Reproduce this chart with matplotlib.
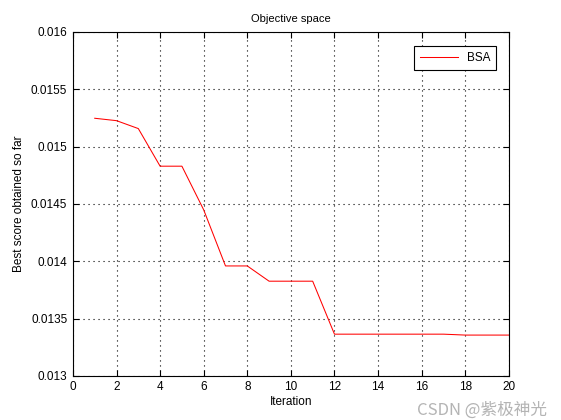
import matplotlib
matplotlib.use('Agg')
import matplotlib.pyplot as plt

# Convergence curve
iterations = list(range(1, 21))
best_score = [0.015247, 0.015226, 0.015157, 0.014829, 0.014829,
              0.014448, 0.013959, 0.013959, 0.013826, 0.013826,
              0.013826, 0.013364, 0.013364, 0.013364, 0.013364,
              0.013364, 0.013364, 0.013356, 0.013356, 0.013356]
x_ticks = [0, 2, 4, 6, 8, 10, 12, 14, 16, 18, 20]
y_ticks = [0.013, 0.0135, 0.014, 0.0145, 0.015, 0.0155, 0.016]
y_labels = ['0.013', '0.0135', '0.014', '0.0145', '0.015', '0.0155', '0.016']

plt.rcParams['font.family'] = ['Liberation Sans', 'DejaVu Sans']

fig = plt.figure(figsize=(5.61, 4.2), dpi=100)
ax = fig.add_axes([0.130, 0.105, 0.777, 0.819])

ax.plot(iterations, best_score, color='red', linewidth=0.75, label='BSA')

ax.set_xlim(0, 20)
ax.set_ylim(0.013, 0.016)
ax.set_xticks(x_ticks)
ax.set_yticks(y_ticks)
ax.set_yticklabels(y_labels)
ax.tick_params(direction='in', top=True, right=True, labelsize=8.5, length=4, pad=4)
ax.grid(True, linestyle=(0, (1, 3.5)), color='black', linewidth=0.8)
for s in ax.spines.values():
    s.set_linewidth(0.8)

ax.set_title('Objective space', fontsize=8, pad=7)
ax.set_xlabel('Iteration', fontsize=8.5, labelpad=2)
ax.set_ylabel('Best score obtained so far', fontsize=8.5, labelpad=4)

leg = ax.legend(loc='upper right', fontsize=8.5, fancybox=False, framealpha=1,
                edgecolor='black', handlelength=3.2, borderpad=0.5,
                bbox_to_anchor=(0.985, 0.975))
leg.get_frame().set_linewidth(0.8)

# watermark
fig.text(0.975, 0.004, 'CSDN @紫极神光', ha='right', va='bottom', fontsize=12,
         color='#b4b4b4', family=['Noto Sans CJK SC', 'DejaVu Sans'])

fig.savefig('out.png', dpi=100, facecolor='white')
